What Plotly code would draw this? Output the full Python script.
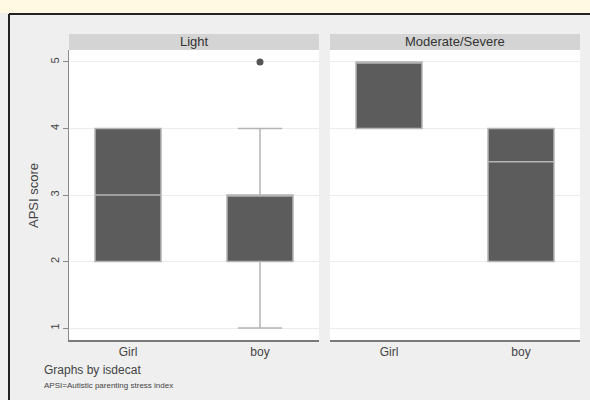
import plotly.graph_objects as go
from plotly.subplots import make_subplots

W, H = 590, 400

# APSI score box summaries, faceted by isdecat
panels = ["Light", "Moderate/Severe"]
sexes = ["Girl", "boy"]
q1 = [[2, 2], [4, 2]]
median = [[3, 3], [5, 3.5]]
q3 = [[4, 3], [5, 4]]
lower_whisker = [[2, 1], [4, 2]]
upper_whisker = [[4, 4], [5, 4]]
outlier_panel = [0]
outlier_sex = ["boy"]
outlier_value = [5]

y_ticks = [1, 2, 3, 4, 5]
y_range = [0.82, 5.18]

FONT = "Liberation Sans, Arial, sans-serif"
BOX_FILL = "#5c5c5c"
BOX_LINE = "#b4b4b4"
GRID = "#ececec"
AXIS = "#8a8a8a"
TEXT = "#444444"

fig = make_subplots(rows=1, cols=2, shared_yaxes=False, horizontal_spacing=0.0)

for p in range(len(panels)):
    fig.add_trace(
        go.Box(
            x=sexes,
            q1=q1[p],
            median=median[p],
            q3=q3[p],
            lowerfence=lower_whisker[p],
            upperfence=upper_whisker[p],
            width=0.5,
            whiskerwidth=0.67,
            fillcolor=BOX_FILL,
            line=dict(color=BOX_LINE, width=1.5),
            boxpoints=False,
            showlegend=False,
            hoverinfo="skip",
        ),
        row=1, col=p + 1,
    )

for p, s, v in zip(outlier_panel, outlier_sex, outlier_value):
    fig.add_trace(
        go.Scatter(
            x=[s], y=[v], mode="markers",
            marker=dict(color="#555555", size=7),
            showlegend=False, hoverinfo="skip",
        ),
        row=1, col=p + 1,
    )

# panel domains in pixel terms
x_dom = [(69, 319), (330, 580)]
plot_top, plot_bot = 50, 340
strip_top = 34

def px_x(v):
    return v / W

def px_y(v):
    return 1 - v / H

for i, (a, b) in enumerate(x_dom):
    xa = "xaxis" if i == 0 else f"xaxis{i + 1}"
    ya = "yaxis" if i == 0 else f"yaxis{i + 1}"
    fig.layout[xa].update(
        domain=[px_x(a), px_x(b)],
        type="category",
        categoryorder="array",
        categoryarray=sexes,
        range=[-0.447, 1.447],
        showgrid=False,
        zeroline=False,
        showline=True,
        linecolor="#7a7a7a",
        linewidth=1.5,
        ticks="",
        tickfont=dict(family=FONT, size=12, color=TEXT),
        fixedrange=True,
    )
    fig.layout[ya].update(
        domain=[px_y(plot_bot), px_y(plot_top)],
        range=y_range,
        tickvals=y_ticks,
        showgrid=True,
        gridcolor=GRID,
        gridwidth=1,
        zeroline=False,
        showline=(i == 0),
        linecolor=AXIS,
        linewidth=1,
        ticks="outside" if i == 0 else "",
        ticklen=5,
        tickcolor=AXIS,
        tickangle=-90,
        showticklabels=(i == 0),
        tickfont=dict(family=FONT, size=11, color=TEXT),
        fixedrange=True,
    )
    if i > 0:
        fig.layout[ya].update(matches="y")

shapes = []
annotations = []

# cream band above the frame
shapes.append(dict(type="rect", xref="paper", yref="paper",
                   x0=0, x1=1, y0=px_y(13), y1=1,
                   fillcolor="#fff9e3", line=dict(width=0), layer="below"))
# dark frame lines (top and left)
shapes.append(dict(type="line", xref="paper", yref="paper",
                   x0=px_x(9), x1=1, y0=px_y(14), y1=px_y(14),
                   line=dict(color="#222222", width=2)))
shapes.append(dict(type="line", xref="paper", yref="paper",
                   x0=px_x(9), x1=px_x(9), y0=0, y1=px_y(14),
                   line=dict(color="#222222", width=2)))

# facet strips
for (a, b), name in zip(x_dom, panels):
    shapes.append(dict(type="rect", xref="paper", yref="paper",
                       x0=px_x(a), x1=px_x(b), y0=px_y(plot_top), y1=px_y(strip_top),
                       fillcolor="#d4d4d4", line=dict(width=0)))
    annotations.append(dict(text=name, xref="paper", yref="paper",
                            x=px_x((a + b) / 2), y=px_y((strip_top + plot_top) / 2),
                            xanchor="center", yanchor="middle", showarrow=False,
                            font=dict(family=FONT, size=13, color="#333333")))

annotations.append(dict(text="APSI score", xref="paper", yref="paper",
                        x=px_x(33), y=px_y(196), textangle=-90,
                        xanchor="center", yanchor="middle", showarrow=False,
                        font=dict(family=FONT, size=13, color=TEXT)))
annotations.append(dict(text="Graphs by isdecat", xref="paper", yref="paper",
                        x=px_x(42), y=px_y(370), xanchor="left", yanchor="middle",
                        showarrow=False, font=dict(family=FONT, size=12, color=TEXT)))
annotations.append(dict(text="APSI=Autistic parenting stress index", xref="paper", yref="paper",
                        x=px_x(42), y=px_y(385), xanchor="left", yanchor="middle",
                        showarrow=False, font=dict(family=FONT, size=8, color=TEXT)))

fig.update_layout(
    width=W, height=H,
    margin=dict(l=0, r=0, t=0, b=0),
    paper_bgcolor="#efefef",
    plot_bgcolor="#ffffff",
    shapes=shapes,
    annotations=annotations,
    boxmode="overlay",
)

fig.write_html("out.html", config={"displayModeBar": False})
